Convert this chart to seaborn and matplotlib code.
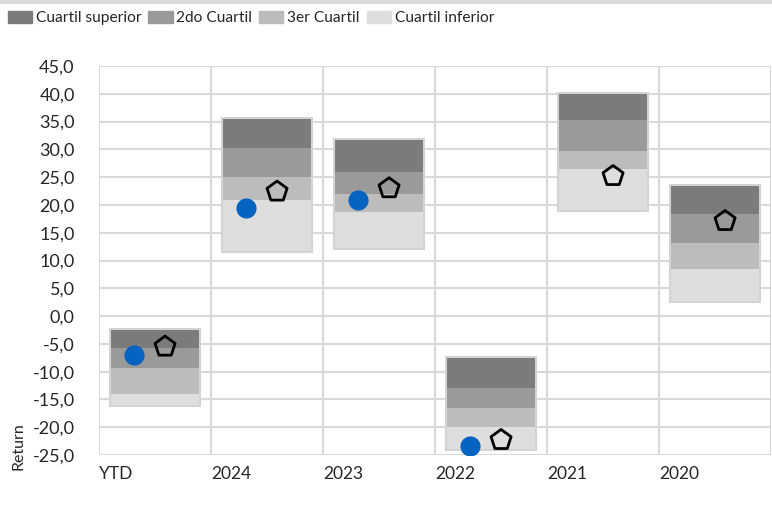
import numpy as np
import pandas as pd
import seaborn as sns
import matplotlib.pyplot as plt
from matplotlib.ticker import FuncFormatter, MultipleLocator

# data
categories = ["YTD", "2024", "2023", "2022", "2021", "2020"]
q_bottom = [-16.2, 11.6, 12.0, -24.1, 18.9, 2.6]   # lower end of "Cuartil inferior"
q3_low = [-14.0, 20.9, 18.8, -19.9, 26.4, 8.4]     # boundary inferior / 3er
q2_low = [-9.3, 25.0, 22.0, -16.5, 29.7, 13.1]     # boundary 3er / 2do
q1_low = [-5.7, 30.3, 26.0, -12.9, 35.3, 18.4]     # boundary 2do / superior
q_top = [-2.4, 35.7, 31.8, -7.3, 40.1, 23.5]       # top of "Cuartil superior"
fund = [-7.0, 19.4, 20.9, -23.4, np.nan, np.nan]   # blue circles
bench = [-5.5, 22.4, 23.0, -22.3, 25.2, 17.1]      # black pentagons

labels = ["Cuartil superior", "2do Cuartil", "3er Cuartil", "Cuartil inferior"]
colors = ["#7b7b7b", "#9a9a9a", "#bcbcbc", "#dedede"]
grid_c = "#d9d9d9"

sns.set_style("white")
plt.rcParams["font.family"] = ["Lato", "DejaVu Sans"]

fig = plt.figure(figsize=(7.72, 5.29), dpi=100)
ax = fig.add_axes([99 / 772, 1 - 455 / 529, 672 / 772, 389 / 529])

df = pd.DataFrame({"cat": categories, "b": q_bottom, "q3": q3_low, "q2": q2_low,
                   "q1": q1_low, "t": q_top})
segments = [("q1", "t"), ("q2", "q1"), ("q3", "q2"), ("b", "q3")]
for (lo, hi), col in zip(segments, colors):
    sns.barplot(x=df["cat"], y=df[hi] - df[lo], bottom=df[lo], color=col,
                width=0.8, linewidth=0, ax=ax, order=categories,
                saturation=1, zorder=2)
# thin light outline around each full bar
sns.barplot(x=df["cat"], y=df["t"] - df["b"], bottom=df["b"], color="#d3d3d3",
            fill=False, edgecolor="#d3d3d3", linewidth=1.5, width=0.8, ax=ax,
            order=categories, zorder=3)

xpos = np.arange(len(categories))
sns.scatterplot(x=xpos - 0.19, y=fund, color="#0563c1", s=210, linewidth=0,
                ax=ax, zorder=4)
sns.scatterplot(x=xpos + 0.09, y=bench, marker="p", s=230, facecolor="none",
                edgecolor="black", linewidth=2, ax=ax, zorder=5)

ax.set_xlim(-0.5, len(categories) - 0.5)
ax.set_ylim(-25, 45)
ax.yaxis.set_major_locator(MultipleLocator(5))
ax.yaxis.set_major_formatter(FuncFormatter(lambda v, p: f"{v:.1f}".replace(".", ",")))
ax.set_xticks(xpos - 0.5)
ax.set_xticklabels(categories, ha="left")
ax.set_xlabel("")
ax.set_ylabel("Return", fontsize=11.5)
ax.yaxis.set_label_coords(-0.11, 0.022)

ax.grid(True, color=grid_c, linewidth=1.5, zorder=0)
ax.set_axisbelow(True)
for s in ax.spines.values():
    s.set_visible(False)
ax.axvline(len(categories) - 0.5, color=grid_c, linewidth=1.5, zorder=0)
ax.tick_params(axis="y", length=9.5, width=1.5, color=grid_c, pad=8, labelsize=13)
ax.tick_params(axis="x", length=36, width=1.5, color=grid_c, pad=-28, labelsize=12.5)

handles = [plt.Rectangle((0, 0), 1, 1, color=c) for c in colors]
fig.legend(handles, labels, loc="upper left", bbox_to_anchor=(-0.004, 1.0), ncol=4,
           frameon=False, fontsize=11.2, handlelength=1.55, handleheight=0.85,
           handletextpad=0.25, columnspacing=0.45, borderaxespad=0.3)
fig.add_artist(plt.Line2D([0, 1], [1, 1], transform=fig.transFigure,
                          color=grid_c, linewidth=5))

fig.savefig("out.png", dpi=100)
